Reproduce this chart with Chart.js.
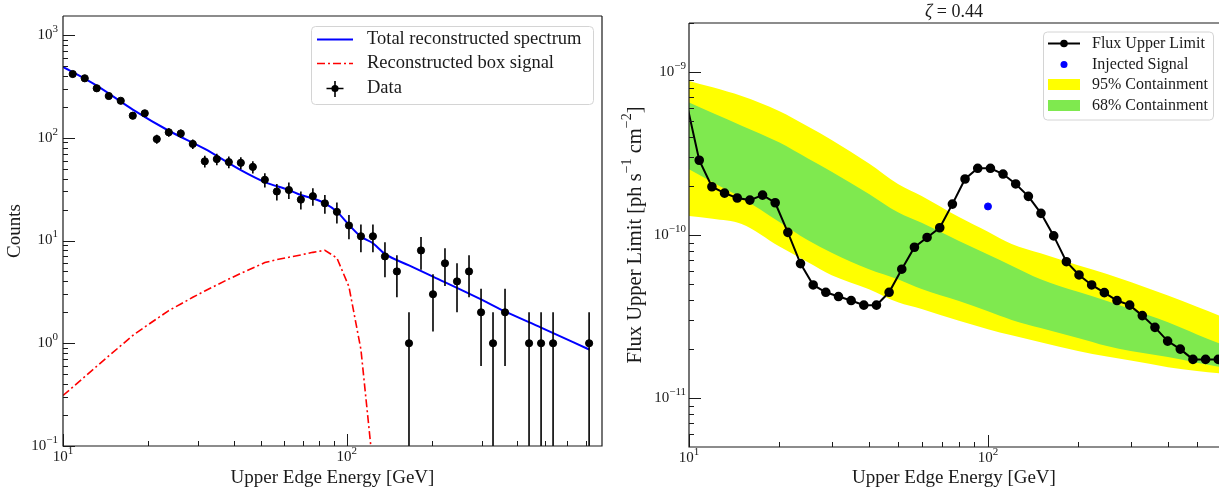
<!DOCTYPE html>
<html>
<head>
<meta charset="utf-8">
<script src="https://cdn.jsdelivr.net/npm/chart.js@4.4.1/dist/chart.umd.min.js"></script>
<style>
  html, body { margin: 0; padding: 0; background: #fff; }
  #wrap { position: relative; width: 1219px; height: 488px; overflow: hidden; }
  #left { position: absolute; left: 0; top: 0; }
  #right { position: absolute; left: 615px; top: 0; }
</style>
</head>
<body>
<div id="wrap">
  <canvas id="left" width="615" height="488"></canvas>
  <canvas id="right" width="604" height="488"></canvas>
</div>
<script>
// ---- left panel: binned counts (upper bin edge in GeV) ----
const binEnergies = [10.82, 11.93, 13.15, 14.50, 15.98, 17.62, 19.42, 21.41, 23.60, 26.02,
  28.68, 31.62, 34.86, 38.43, 42.36, 46.70, 51.48, 56.75, 62.56, 68.97,
  76.03, 83.81, 92.40, 101.9, 112.3, 123.8, 136.5, 150.4, 165.9, 182.9,
  201.6, 222.2, 245.0, 270.1, 297.8, 328.2, 361.8, 398.9, 439.7, 484.8,
  534.4, 589.1, 649.5, 716.0];
const counts = [417, 379, 303, 255, 229, 164, 173, 97, 113, 110,
  87, 59, 62, 58, 57, 52, 39, 30, 31, 25,
  27, 23, 19, 14, 11, 11, 7, 5, 1, 8,
  3, 6, 4, 5, 2, 1, 2, 0, 1, 1,
  1, 0, 0, 1];
const countErrors = [20.4, 19.5, 17.4, 16.0, 15.1, 12.8, 13.2, 9.8, 10.6, 10.5,
  9.3, 7.7, 7.9, 7.6, 7.5, 7.2, 6.2, 5.5, 5.6, 5.0,
  5.2, 4.8, 4.4, 3.7, 3.3, 3.3, 2.6, 2.2, 1.0, 2.8,
  1.7, 2.4, 2.0, 2.2, 1.4, 1.0, 1.4, 0, 1.0, 1.0,
  1.0, 0, 0, 1.0];

// total reconstructed spectrum (model)
const totalEnergies = [10, 13.15, 17.62, 23.60, 31.62, 42.36, 51.48, 62.56, 68.97, 76.03,
  83.81, 92.40, 101.9, 112.3, 123.8, 136.5, 165.9, 201.6, 297.8, 361.8, 484.8, 716.0];
const totalSpectrum = [491, 321, 188, 117, 77.8, 48.4, 37, 31, 27.7, 25.7,
  23.0, 19.1, 14.2, 10.9, 9.4, 7.4, 5.73, 4.45, 2.67, 2.04, 1.42, 0.87];

// reconstructed box signal
const boxEnergies = [10, 10.82, 11.93, 13.15, 14.50, 15.98, 17.62, 19.42, 21.41, 23.60,
  26.02, 28.68, 31.62, 34.86, 38.43, 42.36, 46.70, 51.48, 56.75, 62.56,
  68.97, 76.03, 83.81, 92.40, 101.9, 112.3, 123.8];
const boxSignal = [0.31, 0.374, 0.473, 0.597, 0.752, 0.946, 1.19, 1.44, 1.73, 2.08,
  2.41, 2.80, 3.23, 3.69, 4.22, 4.79, 5.41, 6.10, 6.51, 6.87,
  7.24, 7.67, 8.04, 6.76, 3.55, 0.87, 0.063];

// ---- right panel: flux upper limits ----
const ulEnergies = [9.81, 10.82, 11.93, 13.15, 14.50, 15.98, 17.62, 19.42, 21.41, 23.60, 26.02,
  28.68, 31.62, 34.86, 38.43, 42.36, 46.70, 51.48, 56.75, 62.56, 68.97,
  76.03, 83.81, 92.40, 101.9, 112.3, 123.8, 136.5, 150.4, 165.9, 182.9,
  201.6, 222.2, 245.0, 270.1, 297.8, 328.2, 361.8, 398.9, 439.7, 484.8,
  534.4, 589.1];
const fluxUpperLimit = [6.5e-10, 2.88e-10, 1.98e-10, 1.81e-10, 1.69e-10, 1.64e-10, 1.76e-10, 1.58e-10, 1.04e-10, 6.69e-11, 4.95e-11,
  4.46e-11, 4.20e-11, 3.97e-11, 3.72e-11, 3.72e-11, 4.46e-11, 6.18e-11, 8.43e-11, 9.68e-11, 1.11e-10,
  1.55e-10, 2.21e-10, 2.57e-10, 2.57e-10, 2.37e-10, 2.06e-10, 1.73e-10, 1.36e-10, 9.89e-11, 6.87e-11,
  5.70e-11, 4.95e-11, 4.44e-11, 3.97e-11, 3.72e-11, 3.21e-11, 2.72e-11, 2.24e-11, 2.00e-11, 1.73e-11,
  1.73e-11, 1.73e-11];
const injectedEnergy = 100;
const injectedFlux = 1.5e-10;

const bandEnergies = [10, 12, 15, 20, 25, 30, 40, 50, 60, 80, 100, 120, 150, 200, 250, 300, 400, 500, 600];
const band95Upper = [8.83e-10, 8.07e-10, 7.13e-10, 5.77e-10, 4.63e-10, 3.83e-10, 2.75e-10, 2.06e-10, 1.74e-10, 1.29e-10,
  1.05e-10, 8.83e-11, 7.73e-11, 6.54e-11, 5.78e-11, 5.16e-11, 4.26e-11, 3.64e-11, 3.19e-11];
const band68Upper = [6.50e-10, 5.61e-10, 4.69e-10, 3.71e-10, 2.95e-10, 2.45e-10, 1.79e-10, 1.38e-10, 1.19e-10, 9.2e-11,
  7.6e-11, 6.5e-11, 5.37e-11, 4.49e-11, 3.95e-11, 3.52e-11, 2.92e-11, 2.46e-11, 2.15e-11];
const band68Lower = [2.54e-10, 2.11e-10, 1.69e-10, 1.21e-10, 9.3e-11, 7.79e-11, 6.17e-11, 5.36e-11, 4.67e-11, 3.94e-11,
  3.41e-11, 3.02e-11, 2.69e-11, 2.34e-11, 2.09e-11, 1.95e-11, 1.79e-11, 1.65e-11, 1.55e-11];
const band95Lower = [1.31e-10, 1.26e-10, 1.17e-10, 8.54e-11, 6.81e-11, 5.68e-11, 4.66e-11, 3.87e-11, 3.52e-11, 2.98e-11,
  2.65e-11, 2.43e-11, 2.20e-11, 1.95e-11, 1.80e-11, 1.70e-11, 1.55e-11, 1.47e-11, 1.42e-11];

const SERIF = '"Liberation Serif", "DejaVu Serif", serif';
const INK = '#1a1a1a';
const YELLOW = '#ffff00';
const GREEN = '#7fe94f';

const pts = (xs, ys) => xs.map((x, i) => ({ x: x, y: ys[i] }));
const font = (size, style) => (style ? style + ' ' : '') + size + 'px ' + SERIF;

// every 1..9 x 10^n value inside [min, max]
function logTicks(min, max) {
  const out = [];
  for (let e = Math.floor(Math.log10(min)); e <= Math.ceil(Math.log10(max)); e++) {
    for (let m = 1; m <= 9; m++) {
      const v = m * Math.pow(10, e);
      if (v >= min * 0.9999 && v <= max * 1.0001) out.push({ v: v, e: e, major: m === 1 });
    }
  }
  return out;
}

// text run with optional superscript / italic pieces
function drawRich(ctx, parts, x, y, size, align) {
  const supSize = Math.round(size * 0.7);
  const widths = parts.map(p => {
    ctx.font = font(p.sup ? supSize : size, p.italic ? 'italic' : '');
    return ctx.measureText(p.t).width;
  });
  const total = widths.reduce((a, b) => a + b, 0);
  let cx = align === 'right' ? x - total : align === 'center' ? x - total / 2 : x;
  ctx.textAlign = 'left';
  ctx.textBaseline = 'middle';
  parts.forEach((p, i) => {
    ctx.font = font(p.sup ? supSize : size, p.italic ? 'italic' : '');
    ctx.fillText(p.t, cx, p.sup ? y - size * 0.4 : y);
    cx += widths[i];
  });
}

function power(exp) {
  return [{ t: '10' }, { t: (exp < 0 ? '\u2212' : '') + Math.abs(exp), sup: true }];
}

// inward ticks, power-of-ten labels and spines, matplotlib style
function drawAxes(chart, cfg) {
  const { ctx, chartArea: a, scales: { x, y } } = chart;
  ctx.save();
  ctx.strokeStyle = INK;
  ctx.fillStyle = INK;
  ctx.lineWidth = 1;
  ctx.beginPath();
  logTicks(x.min, x.max).forEach(t => {
    const px = Math.round(x.getPixelForValue(t.v)) + 0.5;
    ctx.moveTo(px, a.bottom);
    ctx.lineTo(px, a.bottom - (t.major ? 12 : 5));
  });
  logTicks(y.min, y.max).forEach(t => {
    const py = Math.round(y.getPixelForValue(t.v)) + 0.5;
    ctx.moveTo(a.left, py);
    ctx.lineTo(a.left + (t.major ? 12 : 5), py);
  });
  ctx.stroke();

  logTicks(x.min, x.max).filter(t => t.major).forEach(t => {
    drawRich(ctx, power(t.e), x.getPixelForValue(t.v), a.bottom + cfg.xLabelGap, cfg.tickSize, 'center');
  });
  logTicks(y.min, y.max).filter(t => t.major).forEach(t => {
    drawRich(ctx, power(t.e), a.left - cfg.yLabelGap, y.getPixelForValue(t.v), cfg.tickSize, 'right');
  });

  // spines
  ctx.lineWidth = 1.2;
  ctx.beginPath();
  ctx.moveTo(a.left, a.top);
  ctx.lineTo(a.left, a.bottom);
  ctx.lineTo(a.right, a.bottom);
  if (cfg.rightSpine) ctx.lineTo(a.right, a.top);
  ctx.moveTo(a.left, a.top);
  ctx.lineTo(a.right, a.top);
  ctx.stroke();

  // axis titles
  drawRich(ctx, [{ t: 'Upper Edge Energy [GeV]' }], (a.left + a.right) / 2, cfg.xTitleY, 19, 'center');
  ctx.save();
  ctx.translate(cfg.yTitleX, (a.top + a.bottom) / 2);
  ctx.rotate(-Math.PI / 2);
  drawRich(ctx, cfg.yTitle, 0, 0, cfg.yTitleSize, 'center');
  ctx.restore();
  ctx.restore();
}

function legendFrame(ctx, x, y, w, h) {
  ctx.save();
  ctx.beginPath();
  ctx.roundRect(x + 0.5, y + 0.5, w, h, 4);
  ctx.fillStyle = 'rgba(255,255,255,0.8)';
  ctx.fill();
  ctx.strokeStyle = '#d4d4d4';
  ctx.lineWidth = 1;
  ctx.stroke();
  ctx.restore();
}

const leftDecor = {
  id: 'leftDecor',
  afterDatasetsDraw(chart) {
    // Poisson error bars on the data points
    const { ctx, chartArea: a, scales: { x, y } } = chart;
    ctx.save();
    ctx.beginPath();
    ctx.rect(a.left, a.top, a.width, a.height);
    ctx.clip();
    ctx.strokeStyle = '#000';
    ctx.lineWidth = 1.6;
    ctx.beginPath();
    binEnergies.forEach((e, i) => {
      const n = counts[i];
      if (n <= 0) return;
      const px = x.getPixelForValue(e);
      const lo = n - countErrors[i];
      ctx.moveTo(px, y.getPixelForValue(n + countErrors[i]));
      ctx.lineTo(px, lo > 0 ? y.getPixelForValue(lo) : a.bottom + 2);
    });
    ctx.stroke();
    ctx.restore();
  },
  afterDraw(chart) {
    drawAxes(chart, {
      tickSize: 15, xLabelGap: 11, yLabelGap: 5, rightSpine: true,
      xTitleY: 478, yTitleX: 15, yTitleSize: 19, yTitle: [{ t: 'Counts' }]
    });
    const ctx = chart.ctx;
    legendFrame(ctx, 311, 26, 282, 78);
    ctx.save();
    ctx.lineWidth = 2;
    ctx.strokeStyle = '#0000ff';
    ctx.beginPath(); ctx.moveTo(317, 39.5); ctx.lineTo(353, 39.5); ctx.stroke();
    ctx.strokeStyle = '#ff0000';
    ctx.lineWidth = 1.6;
    ctx.setLineDash([8, 3, 2, 3]);
    ctx.beginPath(); ctx.moveTo(317, 63.5); ctx.lineTo(353, 63.5); ctx.stroke();
    ctx.setLineDash([]);
    ctx.strokeStyle = '#000';
    ctx.beginPath();
    ctx.moveTo(326.5, 88.5); ctx.lineTo(343.5, 88.5);
    ctx.moveTo(335, 81); ctx.lineTo(335, 97);
    ctx.stroke();
    ctx.fillStyle = '#000';
    ctx.beginPath(); ctx.arc(335, 88.5, 3.6, 0, Math.PI * 2); ctx.fill();
    ctx.fillStyle = INK;
    drawRich(ctx, [{ t: 'Total reconstructed spectrum' }], 367, 39.5, 18.5, 'left');
    drawRich(ctx, [{ t: 'Reconstructed box signal' }], 367, 63.5, 18.5, 'left');
    drawRich(ctx, [{ t: 'Data' }], 367, 88, 18.5, 'left');
    ctx.restore();
  }
};

const rightDecor = {
  id: 'rightDecor',
  afterDraw(chart) {
    drawAxes(chart, {
      tickSize: 15, xLabelGap: 11, yLabelGap: 3, rightSpine: false,
      xTitleY: 478, yTitleX: 21, yTitleSize: 20.5,
      yTitle: [{ t: 'Flux Upper Limit [ph s' }, { t: '\u22121', sup: true }, { t: ' cm' }, { t: '\u22122', sup: true }, { t: ']' }]
    });
    const { ctx, chartArea: a } = chart;
    ctx.save();
    ctx.fillStyle = INK;
    drawRich(ctx, [{ t: '\u03b6', italic: true }, { t: ' = 0.44' }], (a.left + a.right) / 2, 12.5, 18, 'center');

    legendFrame(ctx, 428, 31.5, 170, 88);
    ctx.strokeStyle = '#000';
    ctx.lineWidth = 2;
    ctx.beginPath(); ctx.moveTo(433, 43.5); ctx.lineTo(465, 43.5); ctx.stroke();
    ctx.fillStyle = '#000';
    ctx.beginPath(); ctx.arc(449, 43.5, 3.8, 0, Math.PI * 2); ctx.fill();
    ctx.fillStyle = '#0000ff';
    ctx.beginPath(); ctx.arc(449, 64.5, 3.5, 0, Math.PI * 2); ctx.fill();
    ctx.fillStyle = YELLOW;
    ctx.fillRect(433, 79, 32, 11);
    ctx.fillStyle = GREEN;
    ctx.fillRect(433, 100, 32, 11);
    ctx.fillStyle = INK;
    drawRich(ctx, [{ t: 'Flux Upper Limit' }], 477, 43.5, 16, 'left');
    drawRich(ctx, [{ t: 'Injected Signal' }], 477, 64.5, 16, 'left');
    drawRich(ctx, [{ t: '95% Containment' }], 477, 85, 16, 'left');
    drawRich(ctx, [{ t: '68% Containment' }], 477, 106, 16, 'left');
    ctx.restore();
  }
};

const common = {
  responsive: false,
  animation: false,
  events: [],
  plugins: { legend: { display: false }, tooltip: { enabled: false } }
};

new Chart(document.getElementById('left'), {
  type: 'scatter',
  data: {
    datasets: [
      {
        label: 'Data',
        data: pts(binEnergies, counts).filter(p => p.y > 0),
        backgroundColor: '#000', borderColor: '#000',
        pointRadius: 3.6, showLine: false
      },
      {
        label: 'Reconstructed box signal', type: 'line',
        data: pts(boxEnergies, boxSignal),
        borderColor: '#ff0000', borderWidth: 1.6, borderDash: [8, 3, 2, 3],
        pointRadius: 0, fill: false, tension: 0
      },
      {
        label: 'Total reconstructed spectrum', type: 'line',
        data: pts(totalEnergies, totalSpectrum),
        borderColor: '#0000ff', borderWidth: 2,
        pointRadius: 0, fill: false, cubicInterpolationMode: 'monotone'
      }
    ]
  },
  options: Object.assign({}, common, {
    layout: { autoPadding: false, padding: { left: 63, top: 16, right: 13, bottom: 42 } },
    scales: {
      x: { type: 'logarithmic', min: 10, max: 795, display: false },
      y: { type: 'logarithmic', min: 0.1, max: 1531, display: false }
    }
  }),
  plugins: [leftDecor]
});

new Chart(document.getElementById('right'), {
  type: 'line',
  data: {
    datasets: [
      {
        label: 'Flux Upper Limit',
        data: pts(ulEnergies, fluxUpperLimit),
        borderColor: '#000', backgroundColor: '#000', borderWidth: 2,
        pointRadius: c => (c.dataIndex === 0 ? 0 : 3.8), tension: 0, fill: false
      },
      {
        label: 'Injected Signal', type: 'scatter',
        data: [{ x: injectedEnergy, y: injectedFlux }],
        backgroundColor: '#0000ff', borderColor: '#0000ff', pointRadius: 3.5
      },
      {
        label: '68% Containment',
        data: pts(bandEnergies, band68Upper),
        backgroundColor: GREEN, borderWidth: 0, pointRadius: 0,
        fill: '+1', cubicInterpolationMode: 'monotone'
      },
      {
        label: '68% lower',
        data: pts(bandEnergies, band68Lower),
        borderWidth: 0, pointRadius: 0, fill: false, cubicInterpolationMode: 'monotone'
      },
      {
        label: '95% Containment',
        data: pts(bandEnergies, band95Upper),
        backgroundColor: YELLOW, borderWidth: 0, pointRadius: 0,
        fill: '+1', cubicInterpolationMode: 'monotone'
      },
      {
        label: '95% lower',
        data: pts(bandEnergies, band95Lower),
        borderWidth: 0, pointRadius: 0, fill: false, cubicInterpolationMode: 'monotone'
      }
    ]
  },
  options: Object.assign({}, common, {
    layout: { autoPadding: false, padding: { left: 74, top: 23, right: 0, bottom: 41 } },
    scales: {
      x: { type: 'logarithmic', min: 10, max: 592.5, display: false },
      y: { type: 'logarithmic', min: 5.02e-12, max: 2.0e-9, display: false }
    }
  }),
  plugins: [rightDecor]
});
</script>
</body>
</html>
